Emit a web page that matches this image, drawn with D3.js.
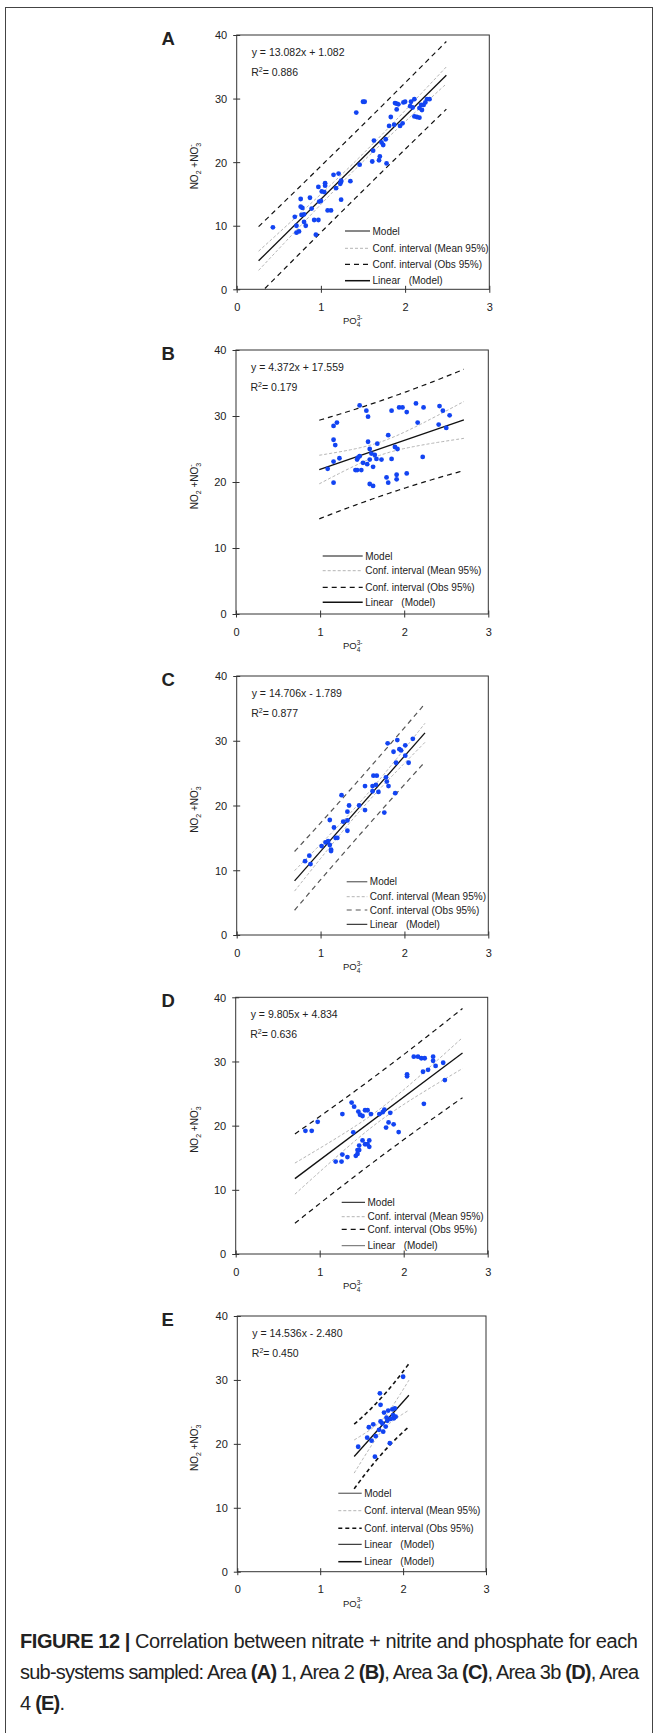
<!DOCTYPE html>
<html>
<head>
<meta charset="utf-8">
<script src="https://cdn.jsdelivr.net/npm/d3@7"></script>
<style>
  body { margin: 0; background: #fff; }
  svg text { font-family: "Liberation Sans", Arial, sans-serif; fill: #222; }
</style>
</head>
<body>
<div id="fig"></div>
<script>
// PO4 (x) and NO2+NO3 (y) per sampled area
const areaA_x = [0.43,0.69,0.71,0.71,0.74,0.76,0.76,0.78,0.77,0.80,0.80,0.82,0.87,0.89,0.92,0.94,0.97,0.98,0.97,1.00,1.01,1.04,1.05,1.05,1.08,1.12,1.15,1.18,1.21,1.23,1.24,1.24,1.24,1.35,1.42,1.50,1.52,1.46,1.61,1.63,1.62,1.69,1.70,1.72,1.74,1.77,1.78,1.81,1.83,1.87,1.88,1.90,1.90,1.92,1.94,1.97,1.98,2.00,2.06,2.07,2.11,2.09,2.11,2.14,2.17,2.17,2.20,2.19,2.22,2.24,2.26,2.29];
const areaA_y = [9.75,11.4,10.0,8.9,9.1,14.2,13.0,12.8,11.7,11.8,10.6,10.0,14.4,12.7,10.9,8.6,10.9,13.8,16.1,13.9,15.4,15.3,16.7,16.3,12.4,12.4,18.0,15.9,18.2,16.6,16.9,14.1,17.1,17.0,27.8,29.5,29.5,19.6,20.1,23.4,21.8,20.3,20.9,23.1,22.7,23.6,19.8,25.7,27.1,25.9,29.3,28.3,29.2,29.1,25.7,26.1,29.4,29.5,28.8,29.5,29.9,28.6,27.2,27.1,28.5,27.0,28.2,29.0,29.0,29.4,29.9,29.9];

const areaB_x = [1.09,1.16,1.20,1.16,1.18,1.16,1.23,1.16,1.42,1.44,1.49,1.51,1.44,1.45,1.47,1.47,1.55,1.57,1.57,1.59,1.61,1.59,1.63,1.59,1.56,1.63,1.65,1.67,1.68,1.73,1.81,1.79,1.81,1.85,1.85,1.91,1.89,1.92,1.91,1.94,1.98,2.03,2.03,2.14,2.16,2.23,2.22,2.41,2.42,2.46,2.50,2.54];
const areaB_y = [22.0,28.5,29.0,26.4,25.6,23.1,23.6,19.9,21.8,21.8,21.8,22.9,23.4,23.7,23.9,31.6,30.8,29.9,26.1,25.0,24.3,19.7,19.4,23.4,22.7,22.3,24.1,23.5,25.8,23.4,27.1,20.7,19.9,23.5,30.8,21.1,25.3,25.0,20.4,31.3,31.3,30.6,21.3,31.9,29.0,31.3,23.8,28.7,31.5,30.8,28.2,30.1];

const areaC_x = [0.815,0.866,0.88,1.013,1.06,1.09,1.11,1.125,1.125,1.11,1.16,1.18,1.20,1.25,1.27,1.32,1.32,1.32,1.34,1.46,1.53,1.53,1.62,1.62,1.63,1.67,1.66,1.69,1.78,1.79,1.81,1.76,1.80,1.87,1.89,1.90,1.915,1.94,1.96,2.01,2.01,2.05,2.10];
const areaC_y = [11.4,12.25,10.96,13.74,14.3,14.5,13.9,13.2,12.97,17.76,16.6,15.0,15.0,21.6,17.5,17.7,16.1,19.05,20.0,20.0,19.3,23.0,22.2,23.0,24.6,24.6,23.2,22.1,24.35,23.7,23.0,18.9,29.6,28.3,21.9,26.6,30.1,28.7,28.5,29.3,27.7,26.6,30.3];

const areaD_x = [0.83,0.905,0.976,1.19,1.26,1.27,1.27,1.33,1.38,1.41,1.40,1.43,1.45,1.45,1.47,1.47,1.46,1.48,1.51,1.51,1.54,1.57,1.54,1.57,1.59,1.59,1.61,1.71,1.75,1.77,1.79,1.82,1.84,1.88,1.94,2.04,2.04,2.12,2.17,2.21,2.25,2.23,2.24,2.29,2.35,2.35,2.38,2.47,2.49];
const areaD_y = [19.2,19.2,20.6,14.4,14.4,15.5,21.8,15.1,23.6,22.96,18.96,15.3,15.6,16.2,16.2,16.9,22.2,21.7,21.5,17.7,22.4,22.4,17.1,17.1,17.7,16.7,21.8,21.8,22.1,22.5,19.7,20.5,22.0,20.2,19.0,28.0,27.7,30.75,30.75,30.5,30.5,28.4,23.4,28.7,30.75,30.1,29.3,29.8,27.1];

const areaE_x = [1.458,1.567,1.587,1.62,1.64,1.66,1.67,1.72,1.728,1.71,1.728,1.75,1.76,1.77,1.79,1.80,1.81,1.82,1.84,1.85,1.87,1.88,1.89,1.90,1.91,2.0];
const areaE_y = [19.55,20.96,22.6,20.5,23.05,17.99,21.2,27.9,26.1,22.2,23.5,23.2,21.9,24.9,22.7,24.1,23.6,25.2,20.1,23.9,25.4,24.5,24.0,25.55,24.25,30.5];

const panelLetters = ['A', 'B', 'C', 'D', 'E'];
const slopes = [13.082, 4.372, 14.706, 9.805, 14.536];
const intercepts = [1.082, 17.559, -1.789, 4.834, -2.480];
const r2Labels = ['0.886', '0.179', '0.877', '0.636', '0.450'];
const lineExtents = [[0.26, 2.49], [0.99, 2.71], [0.69, 2.245], [0.705, 2.70], [1.41, 2.07]];
const xTicks = [0, 1, 2, 3];
const yTicks = [0, 10, 20, 30, 40];
const legendBase = ['Model', 'Conf. interval (Mean 95%)', 'Conf. interval (Obs 95%)', 'Linear   (Model)'];

const xs = [areaA_x, areaB_x, areaC_x, areaD_x, areaE_x];
const ys = [areaA_y, areaB_y, areaC_y, areaD_y, areaE_y];

// layout of each panel on the page
const layout = [
  {top: 35, bottom: 289.3, left: 236.7, right: 489.3, legX: 345, legLen: 25, legRows: [58.3, 41, 25, 8.6]},
  {top: 350, bottom: 614, left: 236, right: 488.3, legX: 322.7, legLen: 40, legRows: [58, 43.3, 26.7, 11.7]},
  {top: 676, bottom: 935, left: 236.7, right: 488.3, legX: 346.7, legLen: 20.6, legRows: [53.3, 38.3, 25, 10.7]},
  {top: 997.3, bottom: 1254, left: 235.7, right: 487.7, legX: 341.7, legLen: 23.3, legRows: [51.7, 37.3, 24.7, 8.3]},
  {top: 1316, bottom: 1571.7, left: 237.3, right: 486, legX: 338.3, legLen: 23.4, legRows: [78.4, 61, 43.4, 27.4, 10]}
];

const styles = {
  model:  {stroke: '#111', width: 1, dash: null},
  modelG: {stroke: '#777', width: 1.4, dash: null},
  mean:   {stroke: '#b4b4b4', width: 1, dash: '3,2'},
  obs:    {stroke: '#111', width: 1.2, dash: '5,4'},
  obsG:   {stroke: '#555', width: 1.2, dash: '5,4'},
  obsE:   {stroke: '#111', width: 1.6, dash: '4,3'},
  linear: {stroke: '#111', width: 1.5, dash: null},
  linThin:{stroke: '#111', width: 1, dash: null},
  linG:   {stroke: '#666', width: 1, dash: null}
};
const legendStyles = [
  ['model', 'mean', 'obs', 'linear'],
  ['model', 'mean', 'obs', 'linear'],
  ['modelG', 'mean', 'obsG', 'linThin'],
  ['model', 'mean', 'obs', 'linG'],
  ['modelG', 'mean', 'obsE', 'linThin', 'linear']
];
const plotObs = ['obs', 'obs', 'obsG', 'obs', 'obsE'];

// two sided 97.5% quantile of Student t
function tQuant(nu) {
  const z = 1.959964;
  const g1 = (Math.pow(z, 3) + z) / 4;
  const g2 = (5 * Math.pow(z, 5) + 16 * Math.pow(z, 3) + 3 * z) / 96;
  const g3 = (3 * Math.pow(z, 7) + 19 * Math.pow(z, 5) + 17 * Math.pow(z, 3) - 15 * z) / 384;
  return z + g1 / nu + g2 / (nu * nu) + g3 / (nu * nu * nu);
}

const W = 659, H = 1733;
const svg = d3.select('#fig').append('svg').attr('width', W).attr('height', H);

// outer frame
svg.append('rect').attr('x', 5.5).attr('y', 7.5).attr('width', 647).attr('height', 1740)
  .attr('fill', 'none').attr('stroke', '#444').attr('stroke-width', 1);

function applyStyle(sel, st) {
  sel.attr('stroke', st.stroke).attr('stroke-width', st.width).attr('fill', 'none');
  if (st.dash) sel.attr('stroke-dasharray', st.dash);
  return sel;
}

panelLetters.forEach((letter, i) => {
  const L = layout[i];
  const px = xs[i], py = ys[i];
  const a = slopes[i], b = intercepts[i];

  const x = d3.scaleLinear().domain([0, 3]).range([L.left, L.right]);
  const y = d3.scaleLinear().domain([0, 40]).range([L.bottom, L.top]);
  const g = svg.append('g');

  // regression statistics for the confidence bands
  const n = px.length;
  const xbar = d3.mean(px);
  const sxx = d3.sum(px, v => (v - xbar) * (v - xbar));
  const sse = d3.sum(px, (v, k) => Math.pow(py[k] - (a * v + b), 2));
  const s = Math.sqrt(sse / (n - 2));
  const t = tQuant(n - 2);
  const [x0, x1] = lineExtents[i];
  const grid = d3.range(0, 61).map(k => x0 + (x1 - x0) * k / 60);
  const half = (v, extra) => t * s * Math.sqrt(extra + 1 / n + (v - xbar) * (v - xbar) / sxx);

  const clipId = 'clip' + letter;
  g.append('clipPath').attr('id', clipId).append('rect')
    .attr('x', L.left).attr('y', L.top).attr('width', L.right - L.left).attr('height', L.bottom - L.top);

  const line = d3.line().x(d => x(d[0])).y(d => y(d[1]));
  const curves = g.append('g').attr('clip-path', `url(#${clipId})`);

  [1, -1].forEach(sg => {
    applyStyle(curves.append('path').attr('d', line(grid.map(v => [v, a * v + b + sg * half(v, 1)]))), styles[plotObs[i]]);
  });
  [1, -1].forEach(sg => {
    applyStyle(curves.append('path').attr('d', line(grid.map(v => [v, a * v + b + sg * half(v, 0)]))), styles.mean);
  });
  applyStyle(curves.append('path').attr('d', line([[x0, a * x0 + b], [x1, a * x1 + b]])), {stroke: '#111', width: 1.3});

  // points
  g.append('g').selectAll('circle').data(px).join('circle')
    .attr('cx', d => x(d)).attr('cy', (d, k) => y(py[k])).attr('r', 2.4)
    .attr('fill', '#1244f2');

  // axes
  g.append('rect').attr('x', L.left).attr('y', L.top).attr('width', L.right - L.left).attr('height', L.bottom - L.top)
    .attr('fill', 'none').attr('stroke', '#333').attr('stroke-width', 1);

  g.append('g').attr('transform', `translate(0,${L.bottom})`)
    .call(d3.axisBottom(x).tickValues(xTicks).tickFormat(d3.format('d')).tickSizeOuter(0))
    .call(ax => ax.select('.domain').remove())
    .call(ax => ax.selectAll('.tick line').attr('y1', -3.5).attr('y2', 3.5).attr('stroke', '#333'))
    .call(ax => ax.selectAll('.tick text').attr('y', 21.5).attr('dy', 0)
      .attr('font-size', 11).attr('font-family', null).attr('fill', '#222'));

  g.append('g').attr('transform', `translate(${L.left},0)`)
    .call(d3.axisLeft(y).tickValues(yTicks).tickFormat(d3.format('d')).tickSizeOuter(0))
    .call(ax => ax.select('.domain').remove())
    .call(ax => ax.selectAll('.tick line').attr('x1', -3.5).attr('x2', 3.5).attr('stroke', '#333'))
    .call(ax => ax.selectAll('.tick text').attr('x', -9.5).attr('dy', '0.36em')
      .attr('font-size', 11).attr('font-family', null).attr('fill', '#222'));

  // panel letter
  g.append('text').attr('x', 161.5).attr('y', L.top + 9.5)
    .attr('font-size', 18.5).attr('font-weight', 'bold').attr('fill', '#111').text(letter);

  // equation and R2
  const eq = `y = ${a}x ${b < 0 ? '-' : '+'} ${Math.abs(b).toFixed(3)}`;
  g.append('text').attr('x', L.left + 15).attr('y', L.top + 21).attr('font-size', 10.5).text(eq);
  const r2 = g.append('text').attr('x', L.left + 14.5).attr('y', L.top + 40.5).attr('font-size', 10.5);
  r2.append('tspan').text('R');
  r2.append('tspan').attr('dy', -4).attr('font-size', 7).text('2');
  r2.append('tspan').attr('dy', 4).text('= ' + r2Labels[i]);

  // legend
  const labels = legendStyles[i].length === 5 ? legendBase.concat([legendBase[3]]) : legendBase;
  labels.forEach((lab, k) => {
    const ly = L.bottom - L.legRows[k];
    applyStyle(g.append('line').attr('x1', L.legX).attr('x2', L.legX + L.legLen).attr('y1', ly).attr('y2', ly),
      styles[legendStyles[i][k]]);
    g.append('text').attr('x', L.legX + L.legLen + 2.5).attr('y', ly + 3.6)
      .attr('font-size', 10).style('white-space', 'pre').text(lab);
  });

  // axis titles
  const xt = g.append('text').attr('x', 343).attr('y', L.bottom + 35).attr('font-size', 9.5);
  xt.append('tspan').text('PO');
  xt.append('tspan').attr('dy', 2.5).attr('font-size', 6.5).text('4');
  xt.append('tspan').attr('dx', -3.6).attr('dy', -7).attr('font-size', 6.5).text('3-');

  const yc = (L.top + L.bottom) / 2 + 4;
  const yt = g.append('text').attr('transform', `translate(198,${yc}) rotate(-90)`)
    .attr('text-anchor', 'middle').attr('font-size', 10);
  yt.append('tspan').text('NO');
  yt.append('tspan').attr('dy', 3).attr('font-size', 7).text('2');
  yt.append('tspan').attr('dy', -3).style('white-space', 'pre').text(' +NO');
  yt.append('tspan').attr('dy', 3).attr('font-size', 7).text('3');
  yt.append('tspan').attr('dx', -3.9).attr('dy', -8).attr('font-size', 7).text('-');
});

// caption
const capLines = [
  [['FIGURE 12 |', true], [' Correlation between nitrate + nitrite and phosphate for each', false]],
  [['sub-systems sampled: Area ', false], ['(A)', true], [' 1, Area 2 ', false], ['(B)', true], [', Area 3a ', false],
   ['(C)', true], [', Area 3b ', false], ['(D)', true], [', Area', false]],
  [['4 ', false], ['(E)', true], ['.', false]]
];
const capWidths = [618, 619, null];
const capY = [1648, 1679, 1710];
let spacing = 0;
capLines.forEach((parts, k) => {
  const t = svg.append('text').attr('x', 20).attr('y', capY[k])
    .attr('font-size', 20).style('white-space', 'pre')
    .style('font-family', '"Liberation Sans Narrow", "Liberation Sans", Arial, sans-serif');
  parts.forEach(([txt, bold]) => {
    t.append('tspan').attr('font-weight', bold ? 'bold' : 'normal').text(txt);
  });
  // stretch with letter spacing so the line ends where the reference's does
  if (capWidths[k]) {
    const chars = parts.map(p => p[0]).join('').length;
    spacing = (capWidths[k] - t.node().getComputedTextLength()) / (chars - 1);
  }
  t.style('letter-spacing', spacing + 'px');
});
</script>
</body>
</html>
